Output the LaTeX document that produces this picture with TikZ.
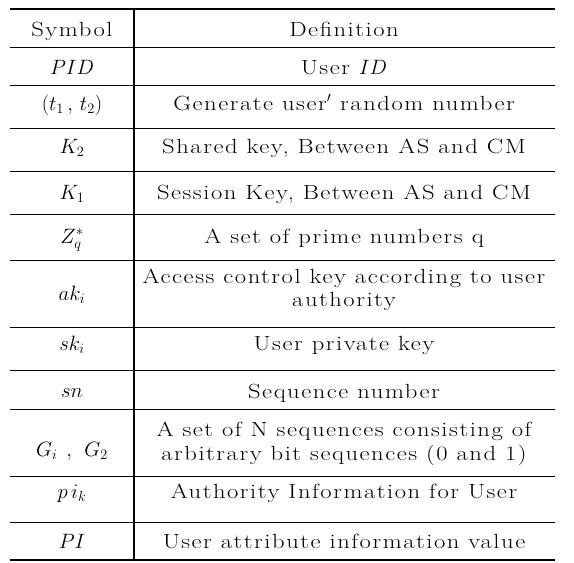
\documentclass[tikz,border=0pt]{standalone}
\usepackage{fontspec}
\setmainfont{Latin Modern Roman}[FakeStretch=1.2,LetterSpace=7.5]

\begin{document}
\begin{tikzpicture}[x=1pt,y=-1pt,
	cell/.style={font=\fontsize{20.5}{24}\selectfont, inner sep=0pt, anchor=base},
	rule/.style={line width=0.9pt}]
	\useasboundingbox (0,0) rectangle (574,563);

	% table rules
	\draw[rule, line width=1.2pt] (10,9) -- (555,9);
	\foreach \y in {47,85,128,171,214,260,327,370,409,476,522}
		\draw[rule] (10,\y) -- (555,\y);
	\draw[rule, line width=1.2pt] (10,560) -- (555,560);
	\draw[rule, line width=1.1pt] (134,9) -- (134,560);

	% symbol column
	\node[cell] (sym) at (72,36) {Symbol};
	\node[cell] (pid) at (72,74) {$PID$};
	\node[cell] (tt) at (72,110) {$(t_1\,,\,t_2)$};
	\node[cell] (ktwo) at (72,153) {$K_2$};
	\node[cell] (kone) at (72,199) {$K_1$};
	\node[cell] (zq) at (72,243) {$Z_q^*$};
	\node[cell] (ak) at (72,300) {$ak_i$};
	\node[cell] (sk) at (72,350) {$sk_i$};
	\node[cell] (sn) at (72,397) {$sn$};
	\node[cell] (gg) at (72,456) {$G_i\ ,\ G_2$};
	\node[cell] (pi) at (72,498) {$p\,i_k$};
	\node[cell] (PI) at (72,548) {$PI$};

	% definition column
	\node[cell] (defn) at (344,36) {Definition};
	\node[cell] (dpid) at (344,74) {User $ID$};
	\node[cell] (dtt) at (344,110) {Generate user$'$ random number};
	\node[cell] (dktwo) at (344,153) {Shared key, Between AS and CM};
	\node[cell] (dkone) at (344,199) {Session Key, Between AS and CM};
	\node[cell] (dzq) at (344,243) {A set of prime numbers q};
	\node[cell] (dak) at (344,283) {Access control key according to user};
	\node[cell] (dak2) at (344,306) {authority};
	\node[cell] (dsk) at (344,350) {User private key};
	\node[cell] (dsn) at (344,398) {Sequence number};
	\node[cell] (dgg) at (344,436) {A set of N sequences consisting of};
	\node[cell] (dgg2) at (344,460) {arbitrary bit sequences (0 and 1)};
	\node[cell] (dpi) at (344,498) {Authority Information for User};
	\node[cell] (dPI) at (344,548) {User attribute information value};
\end{tikzpicture}
\end{document}
